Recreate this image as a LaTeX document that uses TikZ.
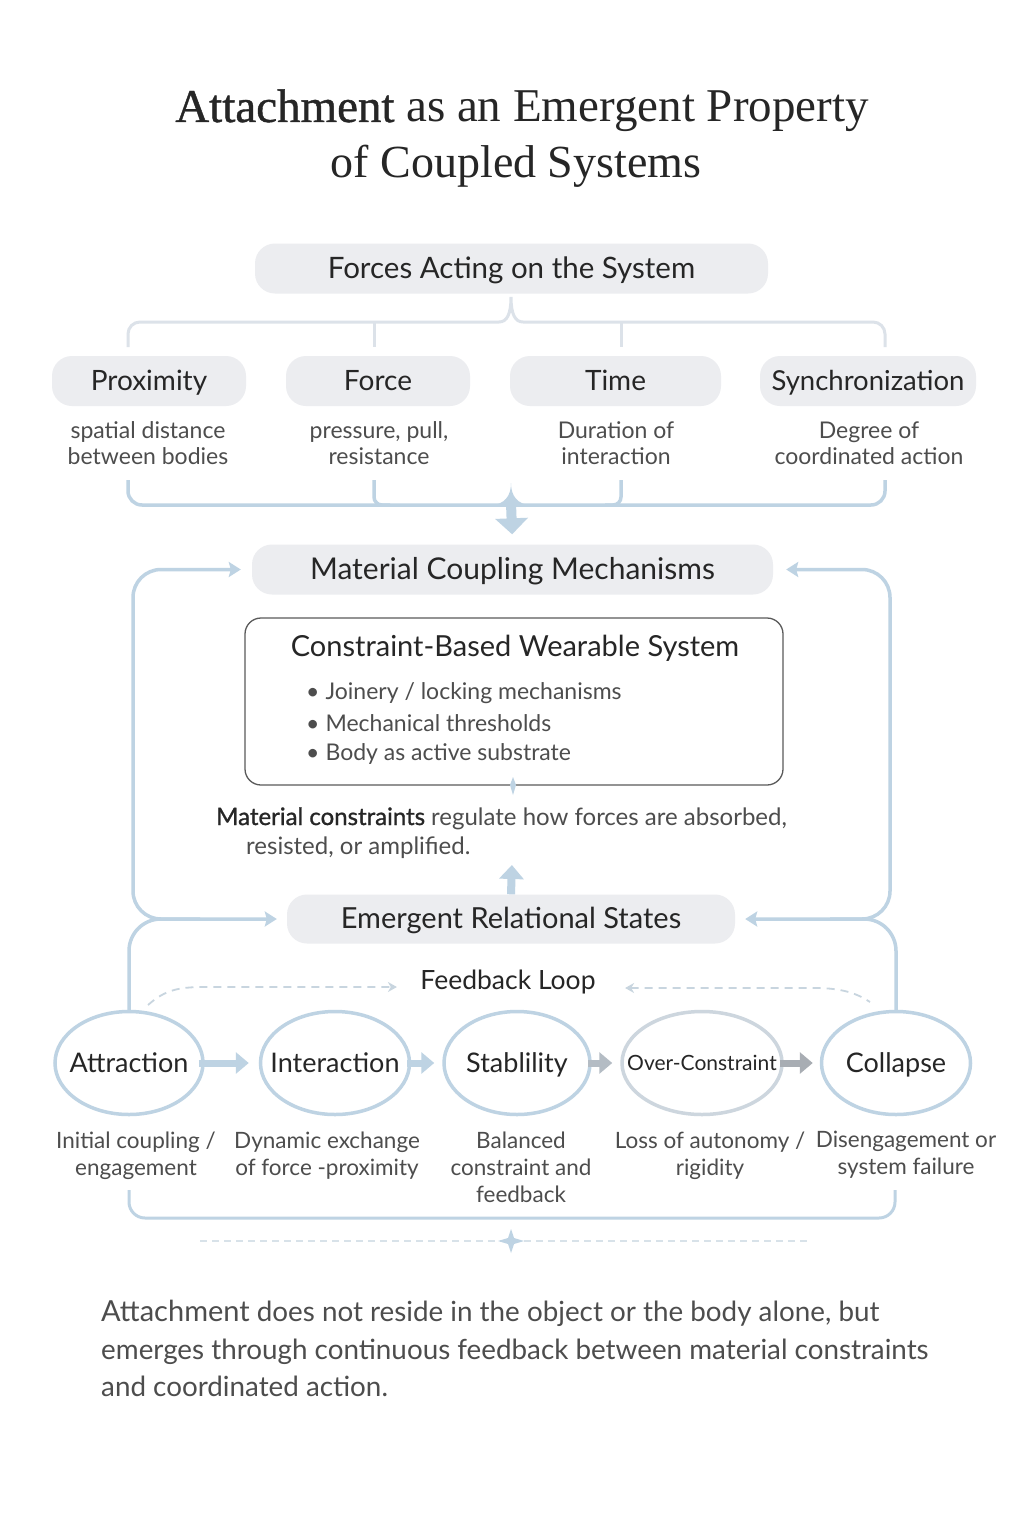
\documentclass[tikz,border=0pt]{standalone}
\usepackage{fontspec}
\setmainfont{Lato}
\newfontfamily\titlefont{Liberation Serif}
\newfontfamily\titlebold[FakeBold=0.9]{Liberation Serif}
\newfontfamily\semib[FakeBold=1.1]{Lato}
\usetikzlibrary{arrows.meta}
\usetikzlibrary{shapes.geometric}

\definecolor{boxgray}{HTML}{ECEDF0}
\definecolor{linkblue}{HTML}{BED3E3}
\definecolor{palebrace}{HTML}{DCE2E9}
\definecolor{headtext}{HTML}{262626}
\definecolor{desctext}{HTML}{4D4D4D}
\definecolor{boxedge}{HTML}{5A5A5A}
\definecolor{dashblue}{HTML}{C8D5DF}
\definecolor{overgray}{HTML}{CDD6DE}
\definecolor{arrowgray}{HTML}{B4BCC4}
\definecolor{arrowdark}{HTML}{A8ADB3}

\begin{document}
\begin{tikzpicture}[x=1pt,y=-1pt,
		pill/.style={fill=boxgray, rounded corners=20pt, minimum height=50pt, inner sep=0pt, text=headtext, text height=22pt, text depth=3pt},
		desc/.style={align=center, text=desctext, font=\fontsize{23}{26.5}\selectfont},
		state/.style={ellipse, draw=linkblue, line width=3.5pt, fill=white, minimum width=148pt, minimum height=103pt, inner sep=0pt},
		statetext/.style={text=headtext, text height=21pt, text depth=2pt, font=\fontsize{27}{30}\selectfont},
		statelabel/.style={align=center, anchor=north, text=desctext, font=\fontsize{22.5}{27}\selectfont},
		sideloop/.style={draw=linkblue, line width=3.5pt, rounded corners=28pt},
		flowarrow/.style={line width=7pt, -{Triangle[length=13pt,width=21pt]}},
		feedback/.style={draw=dashblue, line width=1.8pt, dash pattern=on 8pt off 6pt}]
		\useasboundingbox (0,0) rectangle (1024,1536);
		\fill[white] (0,0) rectangle (1024,1536);
		
		% Titel
		\node[anchor=base, text=headtext, font=\fontsize{47}{52}\selectfont\titlefont] (title1) at (522,122) {{\titlebold Attachment} as an Emergent Property};
		\node[anchor=base, text=headtext, font=\fontsize{46}{52}\selectfont\titlefont] (title2) at (516,177) {of Coupled Systems};
		
		% Krafter
		\node[pill, minimum width=513pt, font=\fontsize{29.5}{32}\selectfont] (forces) at (511.5,268.5) {Forces Acting on the System};
		\node[pill, minimum width=194pt, font=\fontsize{28}{32}\selectfont] (prox) at (149,381) {Proximity};
		\node[pill, minimum width=184pt, font=\fontsize{28}{32}\selectfont] (force) at (378,381) {Force};
		\node[pill, minimum width=211pt, font=\fontsize{28}{32}\selectfont] (time) at (615.5,381) {Time};
		\node[pill, minimum width=216pt, font=\fontsize{27.5}{32}\selectfont] (sync) at (868,381) {Synchronization};
		
		\node[desc] (proxd) at (148,443) {spatial distance\\between bodies};
		\node[desc] (forced) at (379,443) {pressure, pull,\\resistance};
		\node[desc] (timed) at (616,443) {Duration of\\interaction};
		\node[desc] (syncd) at (869,443) {Degree of\\coordinated action};
		
		% Övre klammern
		\draw[palebrace, line width=3pt, rounded corners=12pt] (128,347) -- (128,322) -- (499,322);
		\draw[palebrace, line width=3pt, rounded corners=12pt] (523,322) -- (885,322) -- (885,347);
		\draw[palebrace, line width=3pt] (499,322) .. controls (507,322) and (511,314) .. (511,297) .. controls (511,314) and (515,322) .. (523,322);
		\draw[palebrace, line width=3pt] (374,322) -- (374,347);
		\draw[palebrace, line width=3pt] (621,322) -- (621,347);
		
		% Undre klammern
		\draw[linkblue, line width=3.5pt, rounded corners=14pt] (128,480) -- (128,505) -- (885,505) -- (885,480);
		\draw[linkblue, line width=3.5pt, rounded corners=8pt] (374,480) -- (374,505) -- (390,505);
		\draw[linkblue, line width=3.5pt, rounded corners=8pt] (621,480) -- (621,505) -- (605,505);
		\fill[linkblue] (490,506) .. controls (505,504) and (511,496) .. (511,483) .. controls (511,496) and (517,504) .. (532,506) -- cycle;
		
		\node[pill, minimum width=521pt, font=\fontsize{30}{32}\selectfont] (mcm) at (512.5,569.5) {Material Coupling Mechanisms};
		\draw[linkblue, line width=10pt, -{Triangle[length=16pt,width=32pt]}, shorten >=10pt] (511,503) -- (mcm.north);
		
		% Begränsningsboxen
		\node[draw=boxedge, line width=1.3pt, rounded corners=16pt, minimum width=538pt, minimum height=167pt, inner sep=0pt] (cbws) at (514,701.5) {};
		\node[text=headtext, font=\fontsize{29}{32}\selectfont, text height=21.5pt, text depth=2.5pt] (cbwst) at (515,647) {Constraint-Based Wearable System};
		\node[anchor=west, text=desctext, font=\fontsize{23}{26}\selectfont, inner sep=0pt] (b1) at (306,693) {\textbullet\hspace{6pt}Joinery / locking mechanisms};
		\node[anchor=west, text=desctext, font=\fontsize{23}{26}\selectfont, inner sep=0pt] (b2) at (306,723) {\textbullet\hspace{6pt}Mechanical thresholds};
		\node[anchor=west, text=desctext, font=\fontsize{23}{26}\selectfont, inner sep=0pt] (b3) at (306,754) {\textbullet\hspace{6pt}Body as active substrate};
		\fill[linkblue] (513,777) -- (516,785) -- (513,795) -- (510,785) -- cycle;
		
		\node[anchor=base west, text=desctext, font=\fontsize{24}{28}\selectfont, inner sep=0pt] (mc1) at (216,825) {{\semib\color{headtext}Material constraints} regulate how forces are absorbed,};
		\node[anchor=base west, text=desctext, font=\fontsize{24}{28}\selectfont, inner sep=0pt] (mc2) at (246,854) {resisted, or amplified.};
		
		\node[pill, minimum width=448pt, minimum height=49pt, font=\fontsize{29}{32}\selectfont] (ers) at (511,919) {Emergent Relational States};
		\draw[linkblue, line width=8pt, -{Triangle[length=14pt,width=24pt]}, shorten >=3pt] (ers.north) -- (512,862);
		
		% Sidoslingor
		\coordinate (lft) at (133,740);
		\coordinate (rgt) at (890,740);
		\draw[sideloop, {Stealth[length=12pt,width=15pt,inset=2pt]}-{Stealth[length=12pt,width=15pt,inset=2pt]}, shorten <=10pt, shorten >=11pt] (ers.west) -| (lft) |- (mcm.west);
		\draw[sideloop, {Stealth[length=12pt,width=15pt,inset=2pt]}-{Stealth[length=12pt,width=15pt,inset=2pt]}, shorten <=10pt, shorten >=13pt] (ers.east) -| (rgt) |- (mcm.east);
		
		% Tillstånden
		\node[state] (attr) at (129,1063) {};
		\node[state, minimum width=149pt] (inter) at (335,1063) {};
		\node[state, minimum width=146pt] (stab) at (517,1063) {};
		\node[state, draw=overgray, minimum width=160pt] (over) at (702,1063) {};
		\node[state, minimum width=149pt] (coll) at (896,1063) {};
		\node[statetext] (attrt) at (attr) {Attraction};
		\node[statetext] (intert) at (inter) {Interaction};
		\node[statetext] (stabt) at (stab) {Stablility};
		\node[statetext, font=\fontsize{21}{24}\selectfont, text height=16.5pt, text depth=1.5pt] (overt) at (over) {Over-Constraint};
		\node[statetext] (collt) at (coll) {Collapse};
		
		\coordinate (lj) at (200,919);
		\coordinate (rj) at (830,919);
		\draw[sideloop, rounded corners=32pt] (attr.north) |- (lj);
		\draw[sideloop, rounded corners=32pt] (coll.north) |- (rj);
		
		\draw[flowarrow, linkblue, shorten >=10pt] ([xshift=-6pt]attr.east) -- (inter.west);
		\draw[flowarrow, linkblue, shorten >=8pt] ([xshift=-4pt]inter.east) -- (stab.west);
		\draw[flowarrow, arrowgray, shorten >=8pt] ([xshift=-4pt]stab.east) -- (over.west);
		\draw[flowarrow, arrowdark, shorten >=7pt] ([xshift=-4pt]over.east) -- (coll.west);
		
		% Återkopplingsslingan
		\node[text=headtext, font=\fontsize{26.5}{30}\selectfont, text height=21pt, text depth=2pt] (loop) at (508,980) {Feedback Loop};
		\coordinate (fbl) at (148,1005);
		\coordinate (fbr) at (870,1002);
		\draw[feedback, -{Stealth[length=9pt,width=10pt]}] (fbl) .. controls (165,990) and (178,987) .. (205,987) -- ([xshift=-20pt,yshift=-7pt]loop.west);
		\draw[feedback, {Stealth[length=9pt,width=10pt]}-] ([xshift=26pt,yshift=-8pt]loop.east) -- (815,988) .. controls (843,988) and (858,994) .. (fbr);
		
		\node[statelabel] (attrd) at (136,1128) {Initial coupling /\\engagement};
		\node[statelabel] (interd) at (327,1128) {Dynamic exchange\\of force -proximity};
		\node[statelabel] (stabd) at (521,1128) {Balanced\\constraint and\\feedback};
		\node[statelabel] (overd) at (710,1128) {Loss of autonomy /\\rigidity};
		\node[statelabel] (colld) at (906,1128) {Disengagement or\\system failure};
		
		\draw[linkblue, line width=3pt, rounded corners=16pt] (129,1190) -- (129,1218) -- (895,1218) -- (895,1190);
		\draw[dashblue!70, line width=1.3pt, dash pattern=on 7pt off 5pt] (200,1241) -- (810,1241);
		\fill[linkblue] (511,1229) -- (514,1238) -- (524,1241) -- (514,1244) -- (511,1253) -- (508,1244) -- (498,1241) -- (508,1238) -- cycle;
		
		% Slutsats
		\node[anchor=base west, text=desctext, font=\fontsize{27.8}{30}\selectfont, inner sep=0pt] (cap1) at (101,1321) {{\fontsize{29}{30}\selectfont Attachment} does not reside in the object or the body alone, but};
		\node[anchor=base west, text=desctext, font=\fontsize{27.8}{30}\selectfont, inner sep=0pt] (cap2) at (101,1359) {emerges through continuous feedback between material constraints};
		\node[anchor=base west, text=desctext, font=\fontsize{27.8}{30}\selectfont, inner sep=0pt] (cap3) at (101,1396) {and coordinated action.};
	\end{tikzpicture}
\end{document}
